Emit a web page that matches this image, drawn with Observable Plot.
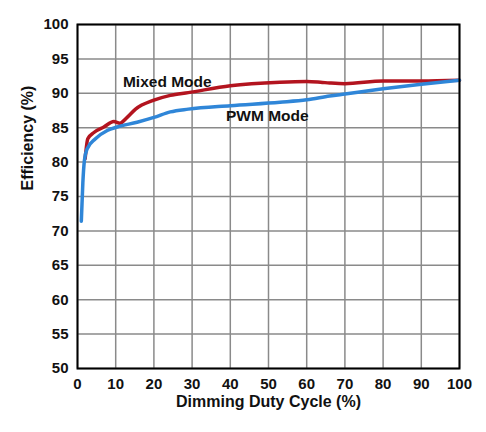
<!DOCTYPE html>
<html>
<head>
<meta charset="utf-8">
<script src="https://cdn.jsdelivr.net/npm/d3@7"></script>
<script src="https://cdn.jsdelivr.net/npm/@observablehq/plot@0.6"></script>
<style>
  body { margin: 0; background: #fff; }
</style>
</head>
<body>
<div id="chart"></div>
<script>
const mixedDuty = [2, 2.7, 4.3, 6.9, 9.5, 11.1, 13, 15.2, 20, 24.3, 29, 40, 53, 60, 63.6, 66, 70, 80, 90, 100];
const mixedEff  = [80.5, 83.4, 84.3, 85.1, 85.9, 85.65, 86.5, 87.7, 89.0, 89.7, 90.1, 91.1, 91.6, 91.7, 91.6, 91.5, 91.4, 91.8, 91.8, 91.9];
const pwmDuty = [1, 1.4, 1.8, 2.5, 4.7, 7.8, 10.4, 15.6, 20, 24.3, 29, 40, 53, 60, 66, 70, 80, 90, 100];
const pwmEff  = [71.4, 77, 80.2, 81.9, 83.4, 84.6, 85.1, 85.8, 86.5, 87.3, 87.7, 88.2, 88.7, 89.05, 89.6, 89.9, 90.65, 91.3, 91.9];
const yTicks = [50, 55, 60, 65, 70, 75, 80, 85, 90, 95, 100];
const xTicks = [0, 10, 20, 30, 40, 50, 60, 70, 80, 90, 100];
const xTitle = "Dimming Duty Cycle (%)";
const yTitle = "Efficiency (%)";
const labels = [
  {text: "Mixed Mode", x: 23.5, y: 91.7},
  {text: "PWM Mode", x: 49.7, y: 86.7}
];

const mixed = mixedDuty.map((d, i) => ({duty: d, eff: mixedEff[i]}));
const pwm = pwmDuty.map((d, i) => ({duty: d, eff: pwmEff[i]}));

const chart = Plot.plot({
  width: 486,
  height: 432,
  marginLeft: 77,
  marginRight: 27,
  marginTop: 24,
  marginBottom: 64,
  style: {fontFamily: "'Liberation Sans', Arial, sans-serif", fontSize: "15px", fontWeight: "bold", color: "#111", background: "#fff"},
  x: {domain: [0, 100], ticks: xTicks, tickSize: 0, tickPadding: 10, label: null},
  y: {domain: [50, 100], ticks: yTicks, tickSize: 0, tickPadding: 9, label: null},
  marks: [
    Plot.gridX(xTicks, {stroke: "#8a8a8a", strokeOpacity: 1, strokeWidth: 1.5}),
    Plot.gridY(yTicks, {stroke: "#8a8a8a", strokeOpacity: 1, strokeWidth: 1.5}),
    Plot.line(mixed, {x: "duty", y: "eff", stroke: "#b3141f", strokeWidth: 3.5, curve: "monotone-x"}),
    Plot.line(pwm, {x: "duty", y: "eff", stroke: "#2f86d8", strokeWidth: 3.5, curve: "monotone-x"}),
    Plot.frame({stroke: "#000", strokeWidth: 2}),
    Plot.text(labels, {x: "x", y: "y", text: "text", fontSize: 15.5, fontWeight: "bold", fill: "#111"}),
    Plot.text([xTitle], {frameAnchor: "bottom", dy: 38, text: d => d, fontSize: 16, fontWeight: "bold", fill: "#111"}),
    Plot.text([yTitle], {frameAnchor: "left", dx: -50, dy: -6, rotate: -90, text: d => d, fontSize: 16, fontWeight: "bold", fill: "#111"})
  ]
});
document.getElementById("chart").appendChild(chart);
</script>
</body>
</html>
